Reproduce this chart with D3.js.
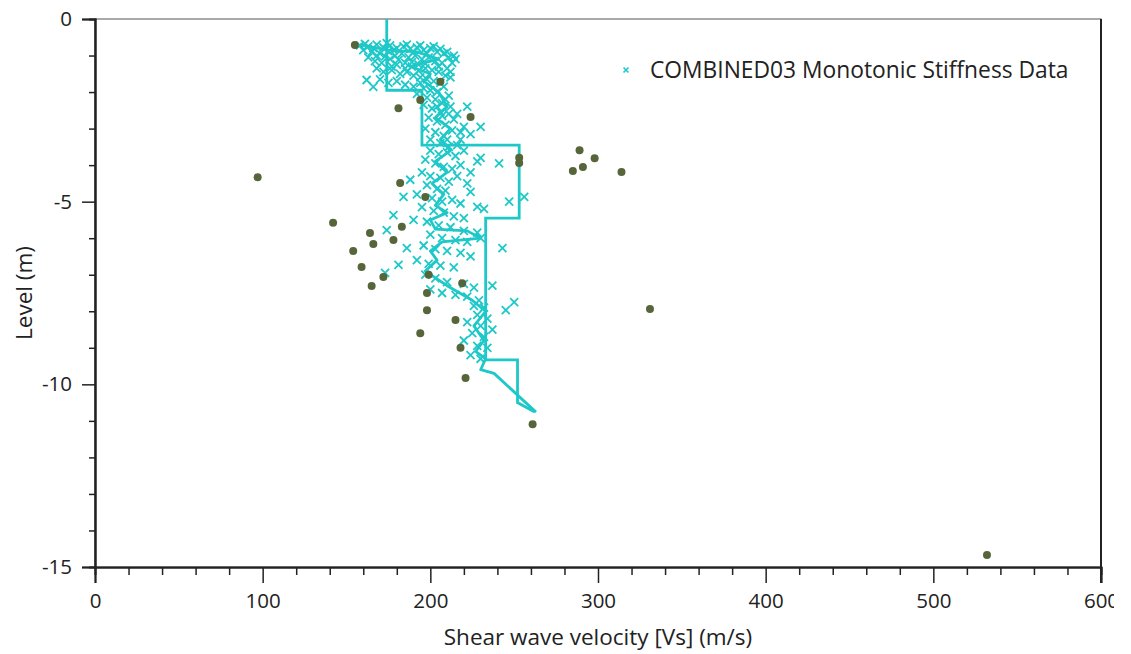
<!DOCTYPE html>
<html><head><meta charset="utf-8">
<script src="https://cdn.jsdelivr.net/npm/d3@7"></script>
<style>body{margin:0;background:#fff;} text{font-family:"Open Sans","Noto Sans",sans-serif;fill:#222;}</style>
</head><body>
<svg id="c" width="1131" height="654"></svg>
<script>
// ---- data ----
const xTicks = [0,100,200,300,400,500,600];
const yTicks = [0,-5,-10,-15];
const seriesName = "COMBINED03 Monotonic Stiffness Data";
// stiffness data points [Vs, level]
const stiffnessData = [
[158,-0.72],[163,-0.75],[168,-0.7],[172,-0.78],[176,-0.72],[180,-0.8],[184,-0.75],[188,-0.82],[192,-0.78],[196,-0.85],[200,-0.8],[204,-0.9],[208,-0.95],[211,-1.05],[213,-1.2],
[161,-0.68],[166,-0.8],[174,-0.66],[178,-0.85],[186,-0.7],[190,-0.9],[194,-0.72],[198,-0.95],[202,-0.75],[206,-0.82],[210,-0.9],[214,-1.0],[215,-1.1],
[160,-0.85],[165,-0.9],[170,-0.95],[175,-0.88],[179,-1.0],[183,-0.95],[187,-1.05],[191,-1.0],[195,-1.1],[199,-1.05],[203,-1.15],[207,-1.2],[210,-1.35],
[173,-1.02],[181,-1.12],[189,-1.18],[197,-1.22],[205,-1.3],[212,-1.45],[168,-1.0],[177,-1.3],[185,-1.35],[193,-1.42],
[163,-1.05],[167,-1.15],[171,-1.2],[176,-1.1],[180,-1.25],[185,-1.2],[189,-1.3],[193,-1.25],[197,-1.35],[201,-1.4],[205,-1.45],[209,-1.55],
[168,-1.35],[172,-1.45],[177,-1.4],[182,-1.5],[186,-1.45],[190,-1.55],[194,-1.6],[198,-1.65],[202,-1.7],[206,-1.75],[212,-1.6],
[170,-1.65],[175,-1.75],[180,-1.7],[185,-1.8],[190,-1.85],[196,-1.9],[200,-1.95],[204,-2.0],[162,-1.67],[166,-1.86],[208,-1.85],[194,-1.75],
[192,-2.05],[198,-2.15],[203,-2.2],[207,-2.3],[211,-2.1],[196,-2.35],[201,-2.45],[206,-2.55],[212,-2.4],[216,-2.6],[222,-2.4],[209,-2.2],[204,-2.4],
[199,-2.7],[204,-2.8],[209,-2.9],[214,-2.75],[220,-2.95],[230,-2.95],[218,-3.1],[207,-2.65],[211,-2.6],
[197,-3.0],[203,-3.1],[208,-3.2],[213,-3.05],[218,-3.3],[224,-3.15],[206,-3.4],[211,-3.5],[216,-3.45],[200,-3.3],[210,-3.3],
[200,-3.6],[205,-3.7],[210,-3.65],[215,-3.75],[220,-3.6],[228,-3.9],[241,-3.95],[230,-3.8],
[197,-3.85],[203,-3.95],[208,-4.05],[213,-4.1],[218,-4.0],[224,-4.2],[195,-4.2],[200,-4.3],[206,-4.35],[211,-4.45],[216,-4.3],[222,-4.5],
[198,-4.55],[204,-4.65],[209,-4.7],[224,-4.73],[192,-4.8],[201,-4.9],[207,-5.0],[213,-4.95],[218,-5.05],[228,-5.14],[232,-5.2],[247,-5.0],[256,-4.87],
[195,-5.15],[202,-5.25],[208,-5.3],[214,-5.4],[220,-5.45],[190,-5.5],[198,-5.55],
[205,-5.65],[212,-5.7],[220,-5.8],[228,-5.85],[200,-5.9],[207,-6.0],[215,-6.05],[222,-6.1],[230,-6.0],[243,-6.27],
[196,-6.2],[203,-6.3],[210,-6.35],[218,-6.4],[224,-6.5],[192,-6.6],[199,-6.7],[206,-6.75],[214,-6.8],
[197,-7.0],[203,-7.1],[210,-7.2],[220,-7.25],[226,-7.35],[237,-7.3],[200,-7.4],[207,-7.5],[215,-7.55],[222,-7.6],[229,-7.7],
[186,-6.27],[181,-6.73],[173,-6.95],[174,-5.78],[178,-5.37],[184,-4.87],[188,-4.4],
[226,-7.85],[232,-7.9],[245,-7.97],[250,-7.75],[228,-8.1],[234,-8.2],[222,-8.3],[230,-8.4],[237,-8.5],[225,-8.6],[232,-8.7],[220,-8.8],[228,-8.95],[234,-9.0],[224,-9.2],[230,-9.3]
];
// other measured points [Vs, level]
const measuredPoints = [
[155,-0.71],[181,-2.44],[194,-2.22],[206,-1.72],[224,-2.68],[253,-3.8],[253,-3.94],[289,-3.59],[298,-3.81],[285,-4.16],[291,-4.05],[314,-4.19],
[97,-4.33],[182,-4.49],[197,-4.87],[142,-5.58],[164,-5.86],[166,-6.16],[178,-6.05],[154,-6.35],[159,-6.79],[172,-7.06],[165,-7.31],[183,-5.69],
[199,-7.0],[219,-7.23],[198,-7.5],[198,-7.97],[215,-8.24],[194,-8.6],[218,-9.0],[221,-9.83],[261,-11.09],[331,-7.94],[532,-14.67]
];
// interpreted step profile [Vs, level]
const stepProfile = [
[174,0],[174,-1.95],[195,-1.95],[195,-3.45],[253,-3.45],[253,-5.45],[233,-5.45],[233,-9.33],[252,-9.33],[252,-10.5],[262,-10.75]
];
// trend line through the data [Vs, level]
const trendLine = [
[158,-0.7],[175,-0.85],[192,-0.9],[205,-1.1],[188,-1.3],[200,-1.5],[196,-1.7],[205,-2.0],[210,-2.4],[203,-2.7],[212,-3.0],[206,-3.3],[212,-3.6],[203,-3.9],[210,-4.2],
[201,-4.5],[208,-4.8],[203,-5.1],[210,-5.3],[200,-5.5],[203,-5.75],[222,-5.8],[230,-6.0],[207,-6.1],[200,-6.35],[204,-6.6],[197,-6.9],[210,-7.3],[225,-7.7],[233,-8.0],
[226,-8.4],[232,-8.8],[227,-9.1],[233,-9.3],[230,-9.6],[238,-9.7],[263,-10.76]
];

// ---- layout ----
const svg = d3.select("#c");
const L=95, T=19, R=1101, B=567;
const x = d3.scaleLinear().domain([0,600]).range([L,R]);
const y = d3.scaleLinear().domain([-15,0]).range([B,T]);
const cyan = "#1ec8c8", dot = "#56653a", axisC="#222";
const fmt = d => String(d);

// frame
svg.append("rect").attr("x",L).attr("y",T).attr("width",R-L).attr("height",B-T)
  .attr("fill","none").attr("stroke","#555").attr("stroke-width",1);

svg.append("defs").append("clipPath").attr("id","plot").append("rect")
  .attr("x",L).attr("y",T).attr("width",R-L).attr("height",B-T);
svg.select("defs").append("clipPath").attr("id","lab").append("rect")
  .attr("x",0).attr("y",0).attr("width",1114).attr("height",654);

// x axis
svg.append("g").attr("transform",`translate(0,${B})`).attr("clip-path","url(#lab)")
  .call(d3.axisBottom(x).tickValues(xTicks).tickSize(16).tickPadding(10).tickFormat(fmt));
svg.append("g").attr("transform",`translate(0,${B})`)
  .call(d3.axisBottom(x).tickValues(d3.range(0,601,20).filter(v=>v%100)).tickSize(8).tickFormat(""));
// y axis
svg.append("g").attr("transform",`translate(${L},0)`)
  .call(d3.axisLeft(y).tickValues(yTicks).tickSize(13).tickPadding(10).tickFormat(fmt));
svg.append("g").attr("transform",`translate(${L},0)`)
  .call(d3.axisLeft(y).tickValues(d3.range(-14,0,1).filter(v=>v%5)).tickSize(6).tickFormat(""));
svg.selectAll(".domain").attr("stroke",axisC).attr("stroke-width",2);
svg.selectAll(".tick line").attr("stroke",axisC).attr("stroke-width",1.5);
svg.selectAll(".tick text").attr("font-size",20.5).attr("fill","#222").attr("font-family",'"Open Sans",sans-serif');
svg.append("line").attr("x1",R).attr("x2",R).attr("y1",T).attr("y2",B+16).attr("stroke",axisC).attr("stroke-width",2);

// titles
svg.append("text").attr("x",598).attr("y",645).attr("text-anchor","middle").attr("font-size",22.5).text("Shear wave velocity [Vs] (m/s)");
svg.append("text").attr("transform","translate(32,293) rotate(-90)").attr("text-anchor","middle").attr("font-size",22.5).text("Level (m)");

const g = svg.append("g").attr("clip-path","url(#plot)");
const line = d3.line().x(d=>x(d[0])).y(d=>y(d[1]));

// cross markers
const cs = 4;
g.append("g").selectAll("path").data(stiffnessData).join("path")
  .attr("d",d=>{const px=x(d[0]),py=y(d[1]);return `M${px-cs},${py-cs}L${px+cs},${py+cs}M${px-cs},${py+cs}L${px+cs},${py-cs}`;})
  .attr("stroke",cyan).attr("stroke-width",1.8).attr("fill","none");

// lines
g.append("path").datum(trendLine).attr("d",line).attr("fill","none").attr("stroke",cyan).attr("stroke-width",2.8).attr("stroke-linejoin","round");
g.append("path").datum(stepProfile).attr("d",line).attr("fill","none").attr("stroke",cyan).attr("stroke-width",2.8);

// dots
g.append("g").selectAll("circle").data(measuredPoints).join("circle")
  .attr("cx",d=>x(d[0])).attr("cy",d=>y(d[1])).attr("r",4).attr("fill",dot);

// legend
const lg = svg.append("g").attr("transform","translate(626,70)");
lg.append("path").attr("d","M-2.5,-2.5L2.5,2.5M-2.5,2.5L2.5,-2.5").attr("stroke",cyan).attr("stroke-width",1.6);
lg.append("text").attr("x",24).attr("y",8).attr("font-size",22.8).text(seriesName);
</script>
</body></html>
